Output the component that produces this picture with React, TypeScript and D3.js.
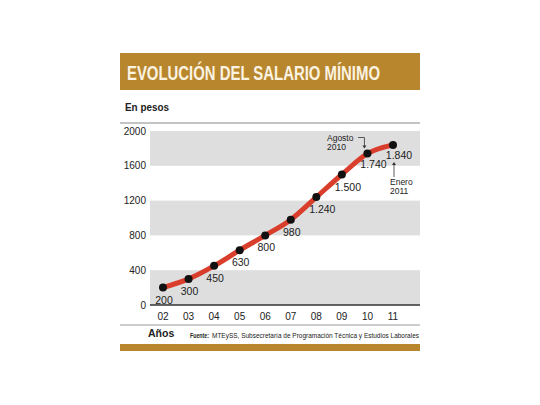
import { useEffect, useRef } from 'react';
import * as d3 from 'd3';

// data
const years = ['02', '03', '04', '05', '06', '07', '08', '09', '10', '11'];
const salaries = [200, 300, 450, 630, 800, 980, 1240, 1500, 1740, 1840];
const valueLabels = ['200', '300', '450', '630', '800', '980', '1.240', '1.500', '1.740', '1.840'];
const yTicks = [0, 400, 800, 1200, 1600, 2000];
const bands: [number, number][] = [[0, 400], [800, 1200], [1600, 2000]];

const FONT = "'Liberation Sans', Arial, sans-serif";
const GOLD = '#b8862c';

const App: React.FC = () => {
    const ref = useRef<SVGSVGElement | null>(null);

    useEffect(() => {
        const svg = d3.select(ref.current);
        svg.selectAll('*').remove();

        const left = 150, right = 420;
        const x = d3.scalePoint<string>().domain(years).range([163, 393]);
        const y = d3.scaleLinear().domain([0, 2000]).range([305, 131]);

        svg.append('rect').attr('width', 540).attr('height', 405).attr('fill', '#fff');

        // title bar
        svg.append('rect').attr('x', 120).attr('y', 53).attr('width', 300).attr('height', 37).attr('fill', GOLD);
        svg.append('text')
            .attr('x', 127).attr('y', 80)
            .attr('font-family', FONT).attr('font-weight', 'bold').attr('font-size', 20)
            .attr('textLength', 253).attr('lengthAdjust', 'spacingAndGlyphs')
            .attr('fill', '#fbf3e2')
            .text('EVOLUCIÓN DEL SALARIO MÍNIMO');

        svg.append('text')
            .attr('x', 125).attr('y', 111)
            .attr('font-family', FONT).attr('font-weight', 'bold').attr('font-size', 11)
            .attr('textLength', 44).attr('lengthAdjust', 'spacingAndGlyphs')
            .attr('fill', '#222')
            .text('En pesos');
        svg.append('line').attr('x1', 120).attr('x2', 420).attr('y1', 123).attr('y2', 123)
            .attr('stroke', '#888').attr('stroke-width', 1);

        // gray bands
        svg.append('g').selectAll('rect').data(bands).join('rect')
            .attr('x', left).attr('width', right - left)
            .attr('y', d => y(d[1])).attr('height', d => y(d[0]) - y(d[1]))
            .attr('fill', '#dedede');

        // y axis labels
        svg.append('g').selectAll('text').data(yTicks).join('text')
            .attr('x', 146).attr('y', d => y(d) + 3.5)
            .attr('text-anchor', 'end')
            .attr('font-family', FONT).attr('font-size', 10).attr('fill', '#222')
            .text(d => String(d));

        // baseline
        svg.append('line').attr('x1', left).attr('x2', right).attr('y1', y(0)).attr('y2', y(0))
            .attr('stroke', '#333').attr('stroke-width', 1.5);

        // x axis labels
        svg.append('g').selectAll('text').data(years).join('text')
            .attr('x', d => x(d)!).attr('y', 320)
            .attr('text-anchor', 'middle')
            .attr('font-family', FONT).attr('font-size', 10).attr('fill', '#222')
            .text(d => d);

        svg.append('line').attr('x1', 120).attr('x2', 420).attr('y1', 325).attr('y2', 325)
            .attr('stroke', '#999').attr('stroke-width', 1);

        // salary line
        const line = d3.line<number>()
            .x((d, i) => x(years[i])!)
            .y(d => y(d))
            .curve(d3.curveMonotoneX);
        svg.append('path')
            .datum(salaries)
            .attr('d', line)
            .attr('fill', 'none')
            .attr('stroke', '#d93d2b')
            .attr('stroke-width', 5)
            .attr('stroke-linecap', 'round');

        svg.append('g').selectAll('circle').data(salaries).join('circle')
            .attr('cx', (d, i) => x(years[i])!).attr('cy', d => y(d))
            .attr('r', 4).attr('fill', '#111');

        // value labels
        svg.append('g').selectAll('text').data(salaries).join('text')
            .attr('x', (d, i) => x(years[i])! + (i >= 6 ? 6 : 1))
            .attr('y', (d, i) => y(d) + (i >= 8 ? 14 : 16))
            .attr('text-anchor', 'middle')
            .attr('font-family', FONT).attr('font-size', 10.5).attr('fill', '#222')
            .text((d, i) => valueLabels[i]);

        // annotations
        const p10 = { x: x('10')!, y: y(1740) };
        const p11 = { x: x('11')!, y: y(1840) };
        const ann = svg.append('g').attr('font-family', FONT).attr('font-size', 8.5).attr('fill', '#222');
        ann.append('text').attr('x', 327).attr('y', 141).text('Agosto');
        ann.append('text').attr('x', 327).attr('y', 150).text('2010');
        ann.append('text').attr('x', 390).attr('y', 185).text('Enero');
        ann.append('text').attr('x', 390).attr('y', 194).text('2011');

        const arrows = svg.append('g').attr('stroke', '#333').attr('stroke-width', 0.8).attr('fill', 'none');
        arrows.append('path').attr('d', `M358,137.5 H${p10.x - 3} V${p10.y - 7}`);
        arrows.append('path').attr('d', `M${p11.x + 1},177 V${p11.y + 19}`);
        const heads = svg.append('g').attr('fill', '#333');
        heads.append('path').attr('d', `M${p10.x - 5},${p10.y - 8} L${p10.x - 1},${p10.y - 8} L${p10.x - 3},${p10.y - 5} Z`);
        heads.append('path').attr('d', `M${p11.x - 1},${p11.y + 20} L${p11.x + 3},${p11.y + 20} L${p11.x + 1},${p11.y + 17} Z`);

        // footer
        svg.append('text')
            .attr('x', 148).attr('y', 337)
            .attr('font-family', FONT).attr('font-weight', 'bold').attr('font-size', 10.5).attr('fill', '#222')
            .text('Años');
        svg.append('text')
            .attr('x', 190).attr('y', 338)
            .attr('textLength', 19).attr('lengthAdjust', 'spacingAndGlyphs')
            .attr('font-family', FONT).attr('font-weight', 'bold').attr('font-size', 6.5).attr('fill', '#222')
            .text('Fuente:');
        svg.append('text')
            .attr('x', 212).attr('y', 338)
            .attr('textLength', 207).attr('lengthAdjust', 'spacingAndGlyphs')
            .attr('font-family', FONT).attr('font-size', 6.5).attr('fill', '#222')
            .text('MTEySS, Subsecretaría de Programación Técnica y Estudios Laborales');

        svg.append('rect').attr('x', 120).attr('y', 344).attr('width', 300).attr('height', 7).attr('fill', GOLD);
    }, []);

    return (
        <svg ref={ref} width={540} height={405} style={{ position: 'absolute', left: 0, top: 0 }}></svg>
    );
};

export default App;
